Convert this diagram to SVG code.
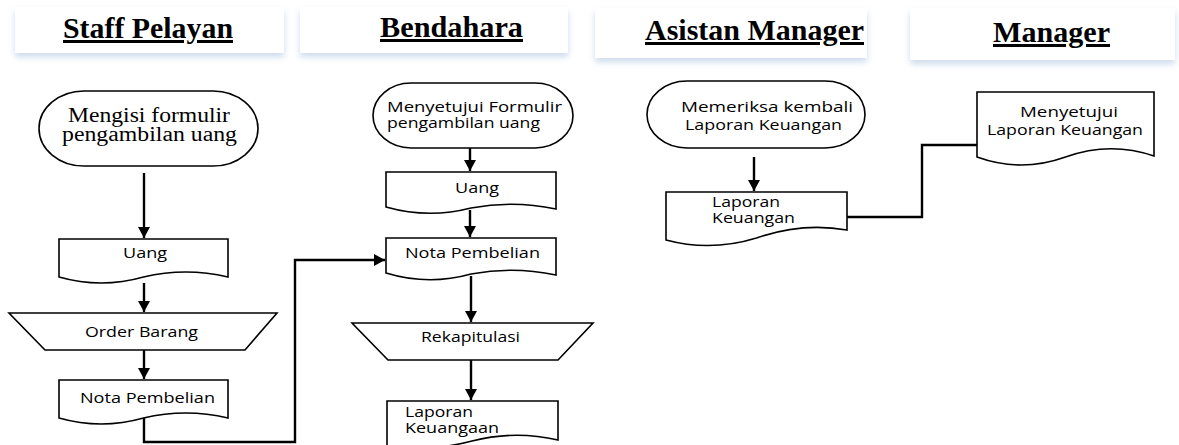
<svg xmlns="http://www.w3.org/2000/svg" width="1179" height="445" viewBox="0 0 1179 445">
<style>
.hdr{fill:#fff;filter:url(#sh)}
.title{font-family:"Liberation Serif","Times New Roman",serif;font-weight:bold;font-size:30px;fill:#000;text-decoration:underline}
.shape{fill:#fff;stroke:#000;stroke-width:1.6}
.lbl{font-family:"Open Sans","Noto Sans",sans-serif;font-size:15px;fill:#000}
.lbl2{font-family:"Open Sans","Noto Sans",sans-serif;font-size:14px;fill:#000}
.ser{font-family:"Liberation Serif","Times New Roman",serif;font-size:20px;fill:#000}
.con{fill:none;stroke:#000;stroke-width:2.4}
</style>
<defs>
<filter id="sh" x="-5%" y="-20%" width="110%" height="160%">
<feDropShadow dx="0" dy="4" stdDeviation="3" flood-color="#8fb0d8" flood-opacity="0.45"/>
</filter>
<marker id="ah" markerUnits="userSpaceOnUse" markerWidth="14" markerHeight="14" refX="11" refY="6" orient="auto">
<path d="M0,0 L11,6 L0,12 Z" fill="#000"/>
</marker>
</defs>
<rect width="1179" height="445" fill="#fff"/>

<g id="lane-staff">
<rect class="hdr" x="15" y="7" width="269" height="46"/>
<text class="title" x="63" y="38" textLength="170" lengthAdjust="spacingAndGlyphs">Staff Pelayan</text>
</g>
<g id="lane-bendahara">
<rect class="hdr" x="300" y="7" width="268" height="46"/>
<text class="title" x="380" y="37" textLength="143" lengthAdjust="spacingAndGlyphs">Bendahara</text>
</g>
<g id="lane-asisten">
<rect class="hdr" x="595" y="8" width="272" height="50"/>
<text class="title" x="645" y="40" textLength="219" lengthAdjust="spacingAndGlyphs">Asistan Manager</text>
</g>
<g id="lane-manager">
<rect class="hdr" x="910" y="8" width="265" height="52"/>
<text class="title" x="993" y="42" textLength="117" lengthAdjust="spacingAndGlyphs">Manager</text>
</g>

<g id="connectors">
<path class="con" d="M144,173 V238" marker-end="url(#ah)"/>
<path class="con" d="M144,283 V312" marker-end="url(#ah)"/>
<path class="con" d="M144,350 V379" marker-end="url(#ah)"/>
<path class="con" d="M144,418 V442 H295 V260 H385" marker-end="url(#ah)"/>
<path class="con" d="M470,148 V171" marker-end="url(#ah)"/>
<path class="con" d="M470,210 V237" marker-end="url(#ah)"/>
<path class="con" d="M471,276 V322" marker-end="url(#ah)"/>
<path class="con" d="M471,360 V400" marker-end="url(#ah)"/>
<path class="con" d="M754,157 V191" marker-end="url(#ah)"/>
<path class="con" d="M847,217 H922 V145 H977"/>
</g>

<g id="s-formulir">
<rect class="shape" x="39" y="91" width="219" height="75" rx="45" ry="37.5"/>
<text class="ser" x="68" y="122" textLength="162" lengthAdjust="spacingAndGlyphs">Mengisi formulir</text>
<text class="ser" x="62" y="141" textLength="175" lengthAdjust="spacingAndGlyphs">pengambilan uang</text>
</g>
<g id="s-uang">
<path class="shape" d="M59,239 H228 V277 Q185.75,267 143.5,277 Q101.25,289 59,277 Z"/>
<text class="lbl" x="123" y="258" textLength="44" lengthAdjust="spacingAndGlyphs">Uang</text>
</g>
<g id="s-order">
<path class="shape" d="M9,313 H277 L245,350 H45 Z"/>
<text class="lbl" x="85" y="337" textLength="113" lengthAdjust="spacingAndGlyphs">Order Barang</text>
</g>
<g id="s-nota">
<path class="shape" d="M59,380 H228 V418 Q185.75,408 143.5,418 Q101.25,430 59,418 Z"/>
<text class="lbl" x="80" y="403" textLength="135" lengthAdjust="spacingAndGlyphs">Nota Pembelian</text>
</g>

<g id="b-formulir">
<rect class="shape" x="373" y="83" width="200" height="65" rx="38" ry="32.5"/>
<text class="lbl2" x="387" y="112" textLength="175" lengthAdjust="spacingAndGlyphs">Menyetujui Formulir</text>
<text class="lbl2" x="387" y="128" textLength="153" lengthAdjust="spacingAndGlyphs">pengambilan uang</text>
</g>
<g id="b-uang">
<path class="shape" d="M386,172 H556 V209 Q513.5,200 471,208 Q428.5,219 386,207 Z"/>
<text class="lbl" x="455" y="193" textLength="44" lengthAdjust="spacingAndGlyphs">Uang</text>
</g>
<g id="b-nota">
<path class="shape" d="M386,238 H556 V275 Q513.5,266 471,274 Q428.5,286 386,273 Z"/>
<text class="lbl" x="405" y="258" textLength="135" lengthAdjust="spacingAndGlyphs">Nota Pembelian</text>
</g>
<g id="b-rekap">
<path class="shape" d="M352,323 H593 L558,360 H388 Z"/>
<text class="lbl" x="421" y="342" textLength="99" lengthAdjust="spacingAndGlyphs">Rekapitulasi</text>
</g>
<g id="b-laporan">
<path class="shape" d="M387,401 H558 V440 Q515,430 472,441 Q430,452 387,447 Z"/>
<text class="lbl2" x="405" y="417" textLength="68" lengthAdjust="spacingAndGlyphs">Laporan</text>
<text class="lbl2" x="405" y="433" textLength="94" lengthAdjust="spacingAndGlyphs">Keuangaan</text>
</g>

<g id="a-memeriksa">
<rect class="shape" x="647" y="81" width="218" height="67" rx="40" ry="33.5"/>
<text class="lbl2" x="681" y="112" textLength="172" lengthAdjust="spacingAndGlyphs">Memeriksa kembali</text>
<text class="lbl2" x="685" y="130" textLength="157" lengthAdjust="spacingAndGlyphs">Laporan Keuangan</text>
</g>
<g id="a-laporan">
<path class="shape" d="M666,192 H847 V230 Q802,222 756.5,238 Q711,252 666,240 Z"/>
<text class="lbl2" x="712" y="207" textLength="68" lengthAdjust="spacingAndGlyphs">Laporan</text>
<text class="lbl2" x="712" y="223" textLength="83" lengthAdjust="spacingAndGlyphs">Keuangan</text>
</g>

<g id="m-menyetujui">
<path class="shape" d="M977,92 H1154 V156 Q1110,141 1065.5,157 Q1021,173 977,157 Z"/>
<text class="lbl2" x="1020" y="117" textLength="98" lengthAdjust="spacingAndGlyphs">Menyetujui</text>
<text class="lbl2" x="987" y="135" textLength="156" lengthAdjust="spacingAndGlyphs">Laporan Keuangan</text>
</g>
</svg>
